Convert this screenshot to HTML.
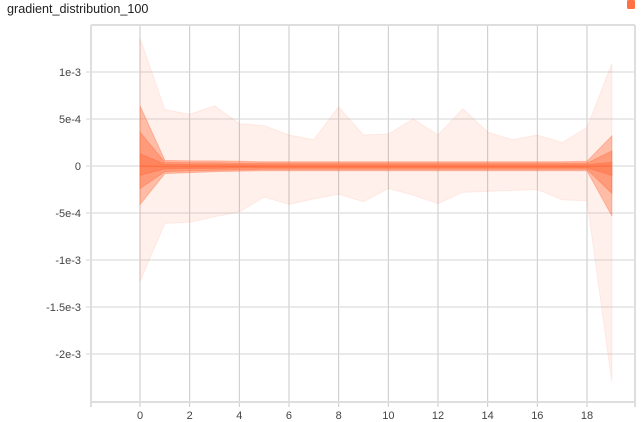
<!DOCTYPE html>
<html><head><meta charset="utf-8"><style>
body{margin:0;background:#fff;font-family:"Liberation Sans",sans-serif}
</style></head><body>
<svg width="643" height="422" style="display:block">
<text x="7" y="13" font-size="12.6" fill="#212121">gradient_distribution_100</text>
<rect x="627" y="0" width="8" height="9" rx="1.5" fill="#ff7043"/>
<g id="grid"></g><g id="bands"></g><g id="axes"></g>
</svg>
<script>
const steps=[0,1,2,3,4,5,6,7,8,9,10,11,12,13,14,15,16,17,18,19];
const maxV=[13.6,6.0,5.5,6.4,4.5,4.3,3.3,2.8,6.3,3.3,3.4,5.0,3.3,6.1,3.6,2.8,3.3,2.5,4.1,10.9];
const p93=[6.4,0.6,0.55,0.55,0.5,0.45,0.45,0.45,0.45,0.45,0.45,0.45,0.45,0.45,0.45,0.45,0.45,0.45,0.5,3.2];
const p84=[3.6,0.4,0.35,0.35,0.3,0.3,0.3,0.3,0.3,0.3,0.3,0.3,0.3,0.3,0.3,0.3,0.3,0.3,0.3,1.6];
const p69=[1.3,0.2,0.15,0.15,0.15,0.12,0.12,0.12,0.12,0.12,0.12,0.12,0.12,0.12,0.12,0.12,0.12,0.12,0.15,0.4];
const p50=[0,-0.05,-0.05,-0.05,-0.05,-0.05,-0.05,-0.05,-0.05,-0.05,-0.05,-0.05,-0.05,-0.05,-0.05,-0.05,-0.05,-0.05,-0.05,0];
const p31=[-1.0,-0.3,-0.25,-0.25,-0.2,-0.2,-0.2,-0.2,-0.2,-0.2,-0.2,-0.2,-0.2,-0.2,-0.2,-0.2,-0.2,-0.2,-0.2,-1.0];
const p16=[-2.4,-0.6,-0.5,-0.45,-0.4,-0.35,-0.35,-0.35,-0.35,-0.35,-0.35,-0.35,-0.35,-0.35,-0.35,-0.35,-0.35,-0.35,-0.35,-2.9];
const p7=[-4.1,-0.8,-0.7,-0.6,-0.55,-0.5,-0.5,-0.5,-0.5,-0.5,-0.5,-0.5,-0.5,-0.5,-0.5,-0.5,-0.5,-0.5,-0.5,-5.3];
const minV=[-12.3,-6.1,-6.0,-5.4,-4.9,-3.3,-4.1,-3.5,-3.0,-3.8,-2.4,-3.1,-4.0,-2.8,-2.7,-2.6,-2.5,-3.6,-3.7,-23.0];
const xTicks=[0,2,4,6,8,10,12,14,16,18];
const yTicks=[10,5,0,-5,-10,-15,-20];
const yLabels=["1e-3","5e-4","0","-5e-4","-1e-3","-1.5e-3","-2e-3"];
const NS="http://www.w3.org/2000/svg";
const L=91,R=635,T=25,B=402;
const xs=s=>140+s*24.833;
const ys=v=>166-v*9.4;
function mk(tag,attrs,parent){const e=document.createElementNS(NS,tag);for(const k in attrs)e.setAttribute(k,attrs[k]);parent.appendChild(e);return e;}
const grid=document.getElementById('grid'),bands=document.getElementById('bands'),axes=document.getElementById('axes');
xTicks.forEach(t=>{
 const l=mk('line',{x1:xs(t),x2:xs(t),y1:T,y2:B+5,stroke:'#c8c8c8','stroke-width':1},grid);
 
 
 const tx=mk('text',{x:xs(t),y:B+17,'font-size':11,'text-anchor':'middle',fill:'#444'},axes);
 tx.textContent=t;
 
 
});
yTicks.forEach((t,i)=>{
 const l=mk('line',{x1:L-5,x2:R,y1:ys(t),y2:ys(t),stroke:'#d6d6d6','stroke-width':1},grid);
 
 
 const tx=mk('text',{x:L-10,y:ys(t)+4,'font-size':11,'text-anchor':'end',fill:'#444'},axes);
 tx.textContent=yLabels[i];
 
 
});
[[L,T,R,T],[L,B,R,B],[L,T,L,B+5],[R,T,R,B+5]].forEach(c=>{
 const l=mk('line',{x1:c[0],y1:c[1],x2:c[2],y2:c[3],stroke:'#dedede','stroke-width':2},grid);
 
 
});
function band(up,lo,op,name){
 let d='M'+steps.map((s,i)=>xs(s)+','+ys(up[i])).join('L');
 d+='L'+steps.slice().reverse().map((s,j)=>{const i=steps.length-1-j;return xs(s)+','+ys(lo[i]);}).join('L')+'Z';
 const p=mk('path',{d:d,fill:'#ff7043','fill-opacity':op,stroke:'#ff7043','stroke-opacity':op,'stroke-width':1},bands);
 
 
}
band(maxV,minV,0.1,'band-min-max');
band(p93,p7,0.4,'band-7-93');
band(p84,p16,0.45,'band-16-84');
band(p69,p31,0.5,'band-31-69');
const med=mk('path',{d:'M'+steps.map((s,i)=>xs(s)+','+ys(p50[i])).join('L'),fill:'none',stroke:'#ff7043','stroke-width':1.5},bands);


</script>
</body></html>
